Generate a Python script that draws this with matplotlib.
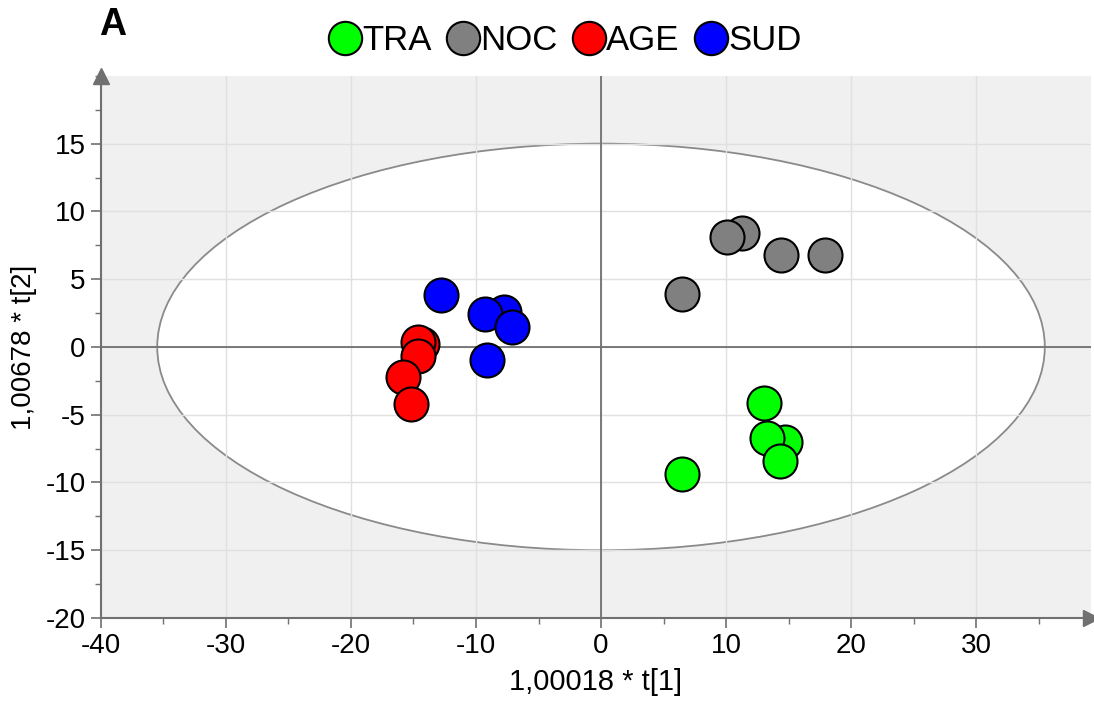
import matplotlib.pyplot as plt
from matplotlib.patches import Ellipse
from matplotlib.lines import Line2D
from matplotlib.ticker import MultipleLocator

plt.rcParams['font.family'] = ['Liberation Sans', 'DejaVu Sans']
plt.rcParams['axes.unicode_minus'] = False

# score values
tra_x = [13.0, 14.7, 13.3, 14.3, 6.5]
tra_y = [-4.1, -7.0, -6.7, -8.4, -9.4]
noc_x = [11.3, 10.1, 14.4, 17.9, 6.5]
noc_y = [8.4, 8.1, 6.8, 6.8, 3.9]
age_x = [-14.3, -14.6, -14.6, -15.8, -15.2]
age_y = [0.2, 0.4, -0.7, -2.2, -4.2]
sud_x = [-12.8, -7.8, -9.3, -7.1, -9.1]
sud_y = [3.8, 2.6, 2.4, 1.5, -1.0]

groups = ['TRA', 'NOC', 'AGE', 'SUD']
colors = ['#00ff00', '#808080', '#ff0000', '#0000ff']

fig = plt.figure(figsize=(10.94, 7.05), dpi=100)
ax = fig.add_axes([0.0923, 0.1234, 0.905, 0.769])
ax.set_facecolor('#f0f0f0')
ax.set_xlim(-40, 39.2)
ax.set_ylim(-20, 20)

# Hotelling ellipse
ell = Ellipse((0, 0), 71, 30, facecolor='white', edgecolor='#8a8a8a', lw=1.3, zorder=0.2)
ax.add_patch(ell)

ax.set_axisbelow(True)
ax.grid(True, color='#e0e0e0', lw=1.0)
ax.axhline(0, color='#707070', lw=1.3, zorder=1)
ax.axvline(0, color='#707070', lw=1.3, zorder=1)

xs = [tra_x, noc_x, age_x, sud_x]
ys = [tra_y, noc_y, age_y, sud_y]
for x, y, c in zip(xs, ys, colors):
    ax.scatter(x, y, s=600, c=c, edgecolors='black', linewidths=1.5, zorder=3)

ax.xaxis.set_minor_locator(MultipleLocator(5))
ax.yaxis.set_minor_locator(MultipleLocator(2.5))
ax.set_yticks([-20, -15, -10, -5, 0, 5, 10, 15])
ax.set_xticks([-40, -30, -20, -10, 0, 10, 20, 30])
ax.tick_params(which='major', length=7, width=1.2, color='#707070', labelsize=20, pad=4)
ax.tick_params(which='minor', length=4, width=1.0, color='#707070')

for s in ['top', 'right']:
    ax.spines[s].set_visible(False)
for s in ['left', 'bottom']:
    ax.spines[s].set_color('#707070')
    ax.spines[s].set_linewidth(1.5)

# arrow heads at the axis ends
ax.plot(1, 0, '>', color='#707070', ms=11, transform=ax.transAxes, clip_on=False)
ax.plot(0, 1, '^', color='#707070', ms=11, transform=ax.transAxes, clip_on=False)

ax.set_xlabel('1,00018 * t[1]', fontsize=21, labelpad=6)
ax.set_ylabel('1,00678 * t[2]', fontsize=20, labelpad=6)

handles = [Line2D([], [], marker='o', ls='', ms=24, mfc=c, mec='black', mew=1.5) for c in colors]
fig.legend(handles, groups, loc='center', bbox_to_anchor=(0.513, 0.943), ncol=4, frameon=False,
           fontsize=25, handletextpad=-0.2, columnspacing=0.2, handlelength=1.4)

fig.text(0.091, 0.965, 'A', fontsize=27, fontweight='bold', va='center', ha='left')

fig.savefig('out.png', dpi=100)
